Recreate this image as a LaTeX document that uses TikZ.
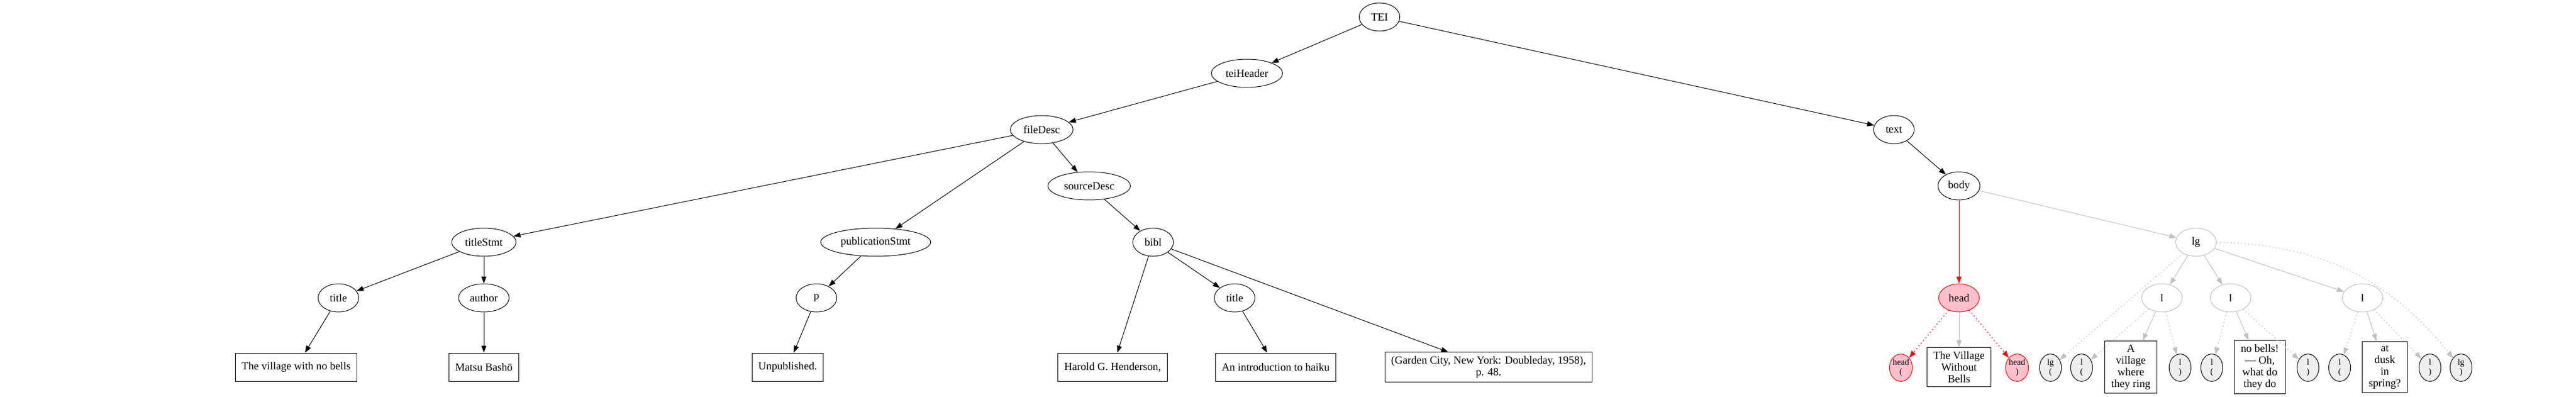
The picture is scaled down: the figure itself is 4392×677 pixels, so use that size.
\documentclass[tikz,border=0pt]{standalone}
\usepackage{fontspec}
\setmainfont{Liberation Serif}
\usetikzlibrary{shapes.geometric,arrows.meta}
\definecolor{lgray}{HTML}{C0C0C0}
\definecolor{tokfill}{HTML}{EEEEEE}
\definecolor{headpink}{HTML}{FFC0CB}

\begin{document}
\begin{tikzpicture}[x=0.75pt,y=-0.75pt,
  el/.style={ellipse,draw,line width=0.75pt,font=\fontsize{14}{15}\selectfont,
    inner xsep=5pt,inner ysep=2pt,minimum width=52pt,minimum height=36pt},
  gel/.style={el,draw=lgray},
  tok/.style={ellipse,draw,line width=0.75pt,fill=tokfill,align=center,
    font=\fontsize{11}{12.5}\selectfont,inner sep=0pt,minimum width=28pt,minimum height=35pt},
  rtok/.style={tok,draw=red,fill=headpink},
  leaf/.style={rectangle,draw,line width=0.75pt,font=\fontsize{14}{15}\selectfont,
    align=center,inner xsep=8pt,inner ysep=5pt,minimum height=36pt},
  edge/.style={-{Triangle[length=9pt,width=6.5pt]},line width=0.75pt},
  gedge/.style={edge,color=lgray},
  dotline/.style={line width=1pt,dash pattern=on 1.2pt off 3.3pt}]

  \useasboundingbox (0,0) rectangle (4392,677);

  % element tree
  \node[el] (tei) at (2352,29) {TEI};
  \node[el] (teiheader) at (2126,125) {teiHeader};
  \node[el] (filedesc) at (1776,221) {fileDesc};
  \node[el] (txt) at (3229,221) {text};
  \node[el] (sourcedesc) at (1857,317) {sourceDesc};
  \node[el] (body) at (3340,317) {body};
  \node[el] (titlestmt) at (825,413) {titleStmt};
  \node[el] (pubstmt) at (1493,413) {publicationStmt};
  \node[el] (bibl) at (1966,413) {bibl};
  \node[gel] (lg) at (3744,413) {lg};
  \node[el] (title) at (577,508) {title};
  \node[el] (author) at (825,508) {author};
  \node[el] (p) at (1392,508) {p};
  \node[el] (btitle) at (2105,508) {title};
  \node[el,draw=red,fill=headpink] (head) at (3340,508) {head};
  \node[gel] (lone) at (3686,508) {l};
  \node[gel] (ltwo) at (3803,508) {l};
  \node[gel] (lthree) at (4028,508) {l};

  % text leaves
  \node[leaf] (vill) at (505,626) {The village with no bells};
  \node[leaf] (basho) at (825,626) {Matsu Bashō};
  \node[leaf] (unpub) at (1343,626) {Unpublished.};
  \node[leaf] (harold) at (1897,626) {Harold G. Henderson,};
  \node[leaf] (intro) at (2175,626) {An introduction to haiku};
  \node[leaf] (garden) at (2538,626) {(Garden City, New York: Doubleday, 1958),\\p. 48.};
  \node[leaf] (headtxt) at (3340,626) {The Village\\Without\\Bells};
  \node[leaf] (lonetxt) at (3633,626) {A\\village\\where\\they ring};
  \node[leaf] (ltwotxt) at (3853,626) {no bells!\\— Oh,\\what do\\they do};
  \node[leaf] (lthreetxt) at (4066,626) {at\\dusk\\in\\spring?};

  % open/close tokens
  \node[rtok] (headopen) at (3241,627) {head\\(};
  \node[rtok] (headclose) at (3439,627) {head\\)};
  \node[tok] (lgopen) at (3496,627) {lg\\(};
  \node[tok] (loneopen) at (3549,627) {l\\(};
  \node[tok] (loneclose) at (3717,627) {l\\)};
  \node[tok] (ltwoopen) at (3771,627) {l\\(};
  \node[tok] (ltwoclose) at (3935,627) {l\\)};
  \node[tok] (lthreeopen) at (3989,627) {l\\(};
  \node[tok] (lthreeclose) at (4143,627) {l\\)};
  \node[tok] (lgclose) at (4196,627) {lg\\)};

  % header edges
  \draw[edge] (tei) -- (teiheader);
  \draw[edge] (tei) -- (txt);
  \draw[edge] (teiheader) -- (filedesc);
  \draw[edge] (filedesc) -- (titlestmt);
  \draw[edge] (filedesc) -- (pubstmt);
  \draw[edge] (filedesc) -- (sourcedesc);
  \draw[edge] (sourcedesc) -- (bibl);
  \draw[edge] (titlestmt) -- (title);
  \draw[edge] (titlestmt) -- (author);
  \draw[edge] (title) -- (vill);
  \draw[edge] (author) -- (basho);
  \draw[edge] (pubstmt) -- (p);
  \draw[edge] (p) -- (unpub);
  \draw[edge] (bibl) -- (harold);
  \draw[edge] (bibl) -- (btitle);
  \draw[edge] (bibl) -- (garden);
  \draw[edge] (btitle) -- (intro);

  % text edges
  \draw[edge] (txt) -- (body);
  \draw[edge,color=red] (body) -- (head);
  \draw[gedge] (body) -- (lg);
  \draw[edge,color=red,dotline] (head) -- (headopen);
  \draw[gedge] (head) -- (headtxt);
  \draw[edge,color=red,dotline] (head) -- (headclose);

  % line group
  \draw[gedge,dotline] (lg) -- (lgopen);
  \draw[gedge] (lg) -- (lone);
  \draw[gedge] (lg) -- (ltwo);
  \draw[gedge] (lg) -- (lthree);
  \draw[gedge,dotline] (lg) to[bend left=25] (lgclose);
  \draw[gedge,dotline] (lone) -- (loneopen);
  \draw[gedge] (lone) -- (lonetxt);
  \draw[gedge,dotline] (lone) -- (loneclose);
  \draw[gedge,dotline] (ltwo) -- (ltwoopen);
  \draw[gedge] (ltwo) -- (ltwotxt);
  \draw[gedge,dotline] (ltwo) -- (ltwoclose);
  \draw[gedge,dotline] (lthree) -- (lthreeopen);
  \draw[gedge] (lthree) -- (lthreetxt);
  \draw[gedge,dotline] (lthree) -- (lthreeclose);
\end{tikzpicture}
\end{document}
